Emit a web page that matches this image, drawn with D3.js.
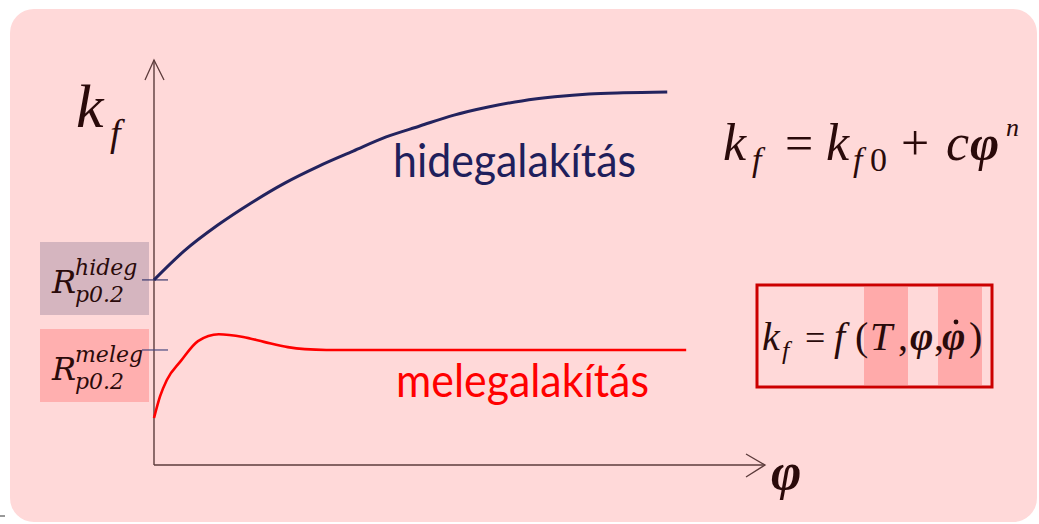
<!DOCTYPE html>
<html lang="hu">
<head>
  <meta charset="utf-8">
  <title>kf - alakítás</title>
  <style>
    body { margin: 0; background: #fff; }
    svg { display: block; }
    .serif { font-family: "Liberation Serif", "Times New Roman", serif; font-style: italic; fill: #2a0a0a; }
    .rlab { font-family: "DejaVu Serif", serif; font-style: italic; fill: #2a0a0a; }
    .sans { font-family: Lato, "Open Sans", sans-serif; }
  </style>
</head>
<body>
  <svg id="chart"></svg>
  <script src="https://d3js.org/d3.v7.min.js"></script>
  <script>
  // values (phi and kf in arbitrary 0..100 units)
  const phiHideg = [0, 4.9, 10.5, 15.9, 21.4, 27.0, 32.6, 38.0, 43.5, 49.1, 54.7, 60.2, 65.6, 71.2, 76.8, 84.0];
  const kfHideg  = [45.7, 52.8, 59.3, 64.7, 69.6, 73.8, 77.5, 81.0, 83.7, 86.4, 88.4, 89.9, 90.9, 91.6, 91.9, 92.1];
  const phiMeleg = [0, 1.0, 2.1, 4.4, 7.2, 10.6, 14.6, 18.0, 21.9, 24.7, 28.2, 87.1];
  const kfMeleg  = [11.6, 17.0, 21.0, 25.7, 30.6, 32.3, 31.6, 30.4, 29.1, 28.6, 28.4, 28.4];
  const yieldNames  = ["hideg", "meleg"];
  const yieldValues = [45.7, 28.4];
  const curveLabels = ["hidegalakítás", "melegalakítás"];

  const W = 1039, H = 524;
  const svg = d3.select("#chart").attr("width", W).attr("height", H);

  // slide background
  svg.append("rect").attr("x", 10).attr("y", 9).attr("width", 1027).attr("height", 513)
    .attr("rx", 24).style("fill", "#ffd9d9");
  svg.append("line").attr("x1", 0).attr("x2", 5).attr("y1", 516).attr("y2", 516)
    .style("stroke", "#333").style("stroke-width", 1);

  const x = d3.scaleLinear().domain([0, 100]).range([154, 765]);
  const y = d3.scaleLinear().domain([0, 100]).range([465, 60]);

  // yield strength label boxes
  const boxColors = ["#d5b5bf", "#ffafaf"];
  const boxTop = [242, 329];
  yieldNames.forEach((n, i) => {
    svg.append("rect").attr("x", 40).attr("y", boxTop[i]).attr("width", 109).attr("height", 73)
      .style("fill", boxColors[i]);
    const base = boxTop[i] + 51;
    const t = svg.append("text").attr("class", "rlab");
    t.append("tspan").attr("x", 52).attr("y", base).style("font-size", "32px").text("R");
    t.append("tspan").attr("x", 75).attr("y", base - 18).style("font-size", "22px").text(n);
    t.append("tspan").attr("x", 75).attr("y", base + 9).style("font-size", "22px").text("p0.2");
  });

  // axes
  const axisColor = "#5c3b3b";
  svg.append("line").attr("x1", x(0)).attr("x2", x(0)).attr("y1", y(0)).attr("y2", y(100))
    .style("stroke", axisColor).style("stroke-width", 1.4);
  svg.append("line").attr("x1", x(0)).attr("x2", x(100)).attr("y1", y(0)).attr("y2", y(0))
    .style("stroke", axisColor).style("stroke-width", 1.6);
  svg.append("path").attr("d", `M${x(0) - 9},${y(100) + 20}L${x(0)},${y(100)}L${x(0) + 10},${y(100) + 20}`)
    .style("fill", "none").style("stroke", axisColor).style("stroke-width", 1.3);
  svg.append("path").attr("d", `M${x(100) - 19},${y(0) - 11}L${x(100)},${y(0)}L${x(100) - 19},${y(0) + 12}`)
    .style("fill", "none").style("stroke", axisColor).style("stroke-width", 1.3);

  // yield ticks
  const tickColors = ["#3a3a6e", "#4a4a80"];
  yieldValues.forEach((v, i) => {
    svg.append("line").attr("x1", x(0) - 12).attr("x2", x(0) + 14).attr("y1", y(v)).attr("y2", y(v))
      .style("stroke", tickColors[i]).style("stroke-width", 1.2);
  });

  // curves
  const line = d3.line().x(d => x(d[0])).y(d => y(d[1])).curve(d3.curveMonotoneX);
  svg.append("path").datum(d3.zip(phiHideg, kfHideg)).attr("d", line)
    .style("fill", "none").style("stroke", "#23235e").style("stroke-width", 3);
  svg.append("path").datum(d3.zip(phiMeleg, kfMeleg)).attr("d", line)
    .style("fill", "none").style("stroke", "#ff0000").style("stroke-width", 2.6);

  svg.append("text").attr("class", "sans").attr("x", 393).attr("y", 177)
    .attr("textLength", 243).attr("lengthAdjust", "spacingAndGlyphs")
    .style("font-size", "46px").style("fill", "#1f1f5c").text(curveLabels[0]);
  svg.append("text").attr("class", "sans").attr("x", 396).attr("y", 397)
    .attr("textLength", 253).attr("lengthAdjust", "spacingAndGlyphs")
    .style("font-size", "46px").style("fill", "#ff0000").text(curveLabels[1]);

  // axis labels
  const kf = svg.append("text").attr("class", "serif");
  kf.append("tspan").attr("x", 76).attr("y", 127).style("font-size", "62px").text("k");
  kf.append("tspan").attr("x", 110).attr("y", 146).style("font-size", "38px").text("f");
  svg.append("text").attr("class", "serif").attr("x", 771).attr("y", 489)
    .style("font-size", "52px").style("font-weight", "bold").text("φ");

  // formula 1
  const f1 = svg.append("text").attr("class", "serif");
  const parts1 = [
    ["k", 723, 160, 52, false, true], ["f", 752, 171, 34, false, true],
    ["=", 785, 160, 50, false, false], ["k", 826, 160, 52, false, true],
    ["f", 853, 171, 34, false, true], ["0", 870, 171, 34, false, false],
    ["+", 901, 160, 50, false, false], ["c", 946, 160, 52, false, true],
    ["φ", 970, 160, 50, true, true], ["n", 1006, 136, 26, false, true]
  ];
  parts1.forEach(p => f1.append("tspan").attr("x", p[1]).attr("y", p[2])
    .style("font-size", p[3] + "px").style("font-weight", p[4] ? "bold" : "normal")
    .style("font-style", p[5] ? "italic" : "normal").text(p[0]));

  // formula 2 box
  svg.append("rect").attr("x", 757).attr("y", 285).attr("width", 235).attr("height", 102)
    .style("fill", "#ffd9d9").style("stroke", "#cc0000").style("stroke-width", 3);
  svg.append("rect").attr("x", 864).attr("y", 287).attr("width", 44).attr("height", 98).style("fill", "#ffaaaa");
  svg.append("rect").attr("x", 938).attr("y", 287).attr("width", 44).attr("height", 98).style("fill", "#ffaaaa");
  const f2 = svg.append("text").attr("class", "serif");
  const parts2 = [
    ["k", 762, 350, 40, false, true], ["f", 782, 359, 26, false, true],
    ["=", 805, 350, 36, false, false], ["f", 834, 350, 40, false, true],
    ["(", 855, 350, 40, false, false], ["T", 870, 350, 40, false, true],
    [",", 898, 350, 40, false, false], ["φ", 910, 350, 40, true, true],
    [",", 934, 350, 40, false, false], ["φ", 942, 350, 40, true, true],
    [")", 969, 350, 40, false, false]
  ];
  parts2.forEach(p => f2.append("tspan").attr("x", p[1]).attr("y", p[2])
    .style("font-size", p[3] + "px").style("font-weight", p[4] ? "bold" : "normal")
    .style("font-style", p[5] ? "italic" : "normal").text(p[0]));
  // time-derivative dot over the second phi
  svg.append("circle").attr("cx", 956).attr("cy", 322).attr("r", 2.4).style("fill", "#2a0a0a");
  </script>
</body>
</html>
